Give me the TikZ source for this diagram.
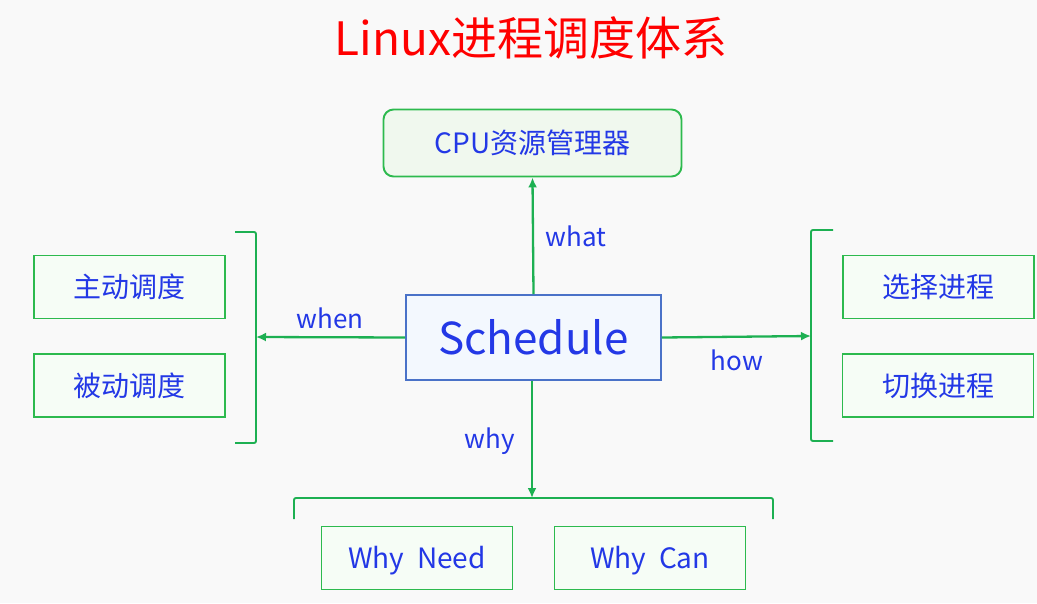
\documentclass[tikz,border=0pt]{standalone}
\usepackage{fontspec}
\setmainfont{Noto Sans CJK SC}
\usetikzlibrary{arrows.meta, positioning}
\definecolor{bggrey}{HTML}{F9F9F9}
\definecolor{linegreen}{HTML}{1DB052}
\definecolor{boxgreen}{HTML}{2DBA4E}
\definecolor{leaffill}{HTML}{F6FDF6}
\definecolor{cpufill}{HTML}{F0F8EE}
\definecolor{txtblue}{HTML}{2338E6}
\definecolor{schedblue}{HTML}{4A72C8}
\definecolor{schedfill}{HTML}{F3F8FE}
\tikzset{%
   % green leaf boxes round the centre
   leaf/.style={
      draw=boxgreen,
      line width=1.9pt,
      fill=leaffill,
      minimum width=191pt,
      minimum height=63pt,
      inner sep=0pt,
      text depth=0.18em,
      text=txtblue,
      font=\fontsize{28}{32}\selectfont
   },
   cpubox/.style={
      leaf,
      fill=cpufill,
      rounded corners=10pt,
      minimum width=298pt,
      minimum height=67pt
   },
   hub/.style={
      draw=schedblue,
      line width=1.8pt,
      fill=schedfill,
      minimum width=255pt,
      minimum height=85pt,
      inner sep=0pt,
      text=txtblue,
      font=\fontsize{44}{48}\selectfont
   },
   link/.style={
      draw=linegreen,
      line width=2.3pt,
      -{Latex[length=10pt,width=9pt]}
   },
   brace/.style={
      draw=linegreen,
      line width=1.9pt,
      rounded corners=2pt
   },
   lbl/.style={
      text=txtblue,
      inner sep=0pt,
      font=\fontsize{26}{30}\selectfont
   },
}

\begin{document}
\begin{tikzpicture}[x=1pt, y=-1pt]
  \fill[bggrey] (0,0) rectangle (1037,603);
  \useasboundingbox (0,0) rectangle (1037,603);

  \node[text=red, font=\fontsize{46}{50}\selectfont] (title) at (531,38) {Linux进程调度体系};

  \node[hub]    (sched) at (533.5,337.5) {Schedule};
  \node[cpubox] (cpu)   at (532.5,143)   {CPU资源管理器};

  \node[leaf] (active)  at (129.5,287)   {主动调度};
  \node[leaf] (passive) at (129.5,385.5) {被动调度};
  \node[leaf] (pick)    at (938.5,287)   {选择进程};
  \node[leaf] (switch)  at (938,385.5)   {切换进程};
  \node[leaf] (need)    at (417,558)     {Why\ \ Need};
  \node[leaf] (can)     at (650,558)     {Why\ \ Can};

  % brackets
  \coordinate (lb) at (256,337);
  \coordinate (rb) at (811,336);
  \coordinate (bb) at (532,498);
  \draw[brace] (235,232) -- (256,232) -- (256,443) -- (235,443);
  \draw[brace] (833,230) -- (811,230) -- (811,441) -- (833,441);
  \draw[brace] (294,519) -- (294,498) -- (773,498) -- (773,519);

  \draw[link] (sched.north) -- (cpu.south);
  \draw[link] (sched.west)  -- (lb);
  \draw[link] (sched.east)  -- (rb);
  \draw[link] (sched.south -| bb) -- (bb);

  \node[lbl] (what) at (576,236) {what};
  \node[lbl] (when) at (330,318) {when};
  \node[lbl] (how)  at (737,360) {how};
  \node[lbl] (why)  at (490,441) {why};
\end{tikzpicture}
\end{document}
